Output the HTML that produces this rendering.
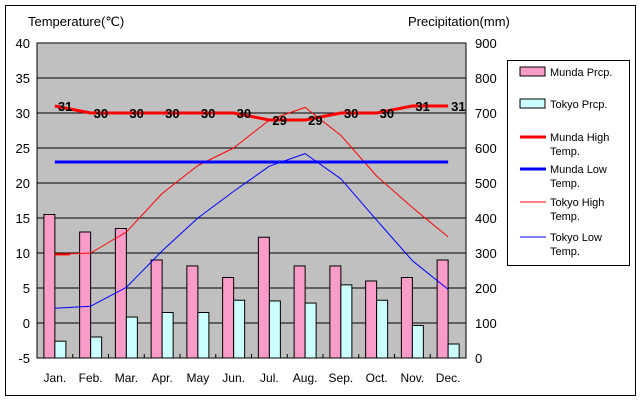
<!DOCTYPE html><html><head><meta charset="utf-8"><style>body{margin:0;background:#fff}svg{display:block;font-family:"Liberation Sans",sans-serif}</style></head><body>
<svg width="640" height="400" xmlns="http://www.w3.org/2000/svg">
<rect x="5.5" y="5.5" width="630" height="390" fill="#fff" stroke="#000"/>
<rect x="37" y="43" width="429" height="315" fill="#c0c0c0" stroke="#000"/>
<g stroke="#000" stroke-width="1">
<line x1="37" y1="78" x2="466" y2="78"/><line x1="37" y1="113" x2="466" y2="113"/><line x1="37" y1="148" x2="466" y2="148"/><line x1="37" y1="183" x2="466" y2="183"/><line x1="37" y1="218" x2="466" y2="218"/><line x1="37" y1="253" x2="466" y2="253"/><line x1="37" y1="288" x2="466" y2="288"/><line x1="37" y1="323" x2="466" y2="323"/>
</g>
<g id="bars" stroke="#000" stroke-width="1"></g>
<g font-size="13" text-anchor="end"><text x="30" y="48">40</text><text x="30" y="83">35</text><text x="30" y="118">30</text><text x="30" y="153">25</text><text x="30" y="188">20</text><text x="30" y="223">15</text><text x="30" y="258">10</text><text x="30" y="293">5</text><text x="30" y="328">0</text><text x="30" y="363">-5</text></g>
<g font-size="13"><text x="475" y="48">900</text><text x="475" y="83">800</text><text x="475" y="118">700</text><text x="475" y="153">600</text><text x="475" y="188">500</text><text x="475" y="223">400</text><text x="475" y="258">300</text><text x="475" y="293">200</text><text x="475" y="328">100</text><text x="475" y="363">0</text></g>
<text x="28" y="26" font-size="13">Temperature(℃)</text>
<text x="408" y="26" font-size="13">Precipitation(mm)</text>
<g font-size="12" text-anchor="middle" id="months"></g>
<g id="lines" fill="none"></g>
<g font-size="13" font-weight="bold" id="labels"></g>
<rect x="507.5" y="60.5" width="122" height="205" fill="#fff" stroke="#000"/>
<rect x="520" y="67" width="25" height="9" fill="#f99cc8" stroke="#000"/>
<rect x="520" y="99" width="25" height="9" fill="#ccffff" stroke="#000"/>
<line x1="520" y1="137" x2="546" y2="137" stroke="#f00" stroke-width="3"/>
<line x1="520" y1="169" x2="546" y2="169" stroke="#00f" stroke-width="3"/>
<line x1="520" y1="202" x2="546" y2="202" stroke="#f00"/>
<line x1="520" y1="237" x2="546" y2="237" stroke="#00f"/>
<g font-size="11"><text x="550" y="76">Munda Prcp.</text><text x="550" y="108">Tokyo Prcp.</text><text x="550" y="141">Munda High</text><text x="550" y="155">Temp.</text><text x="550" y="173">Munda Low</text><text x="550" y="187">Temp.</text><text x="550" y="206">Tokyo High</text><text x="550" y="220">Temp.</text><text x="550" y="241">Tokyo Low</text><text x="550" y="255">Temp.</text></g>
<script>
var ns="http://www.w3.org/2000/svg";
function el(p,t,a,tx){var e=document.createElementNS(ns,t);for(var k in a)e.setAttribute(k,a[k]);if(tx)e.textContent=tx;document.getElementById(p).appendChild(e);}
var m=["Jan.","Feb.","Mar.","Apr.","May","Jun.","Jul.","Aug.","Sep.","Oct.","Nov.","Dec."];
var mp=[410,360,370,280,263,230,345,263,263,220,230,280],tp=[48,60,117,130,130,165,163,157,209,165,93,40];
var mh=[31,30,30,30,30,30,29,29,30,30,31,31],ml=[23,23,23,23,23,23,23,23,23,23,23,23];
var th=[9.8,10,13,18.5,22.5,25,29,30.8,26.8,21,16.5,12.3],tl=[2.1,2.4,5.1,10.3,15,18.8,22.4,24.2,20.6,14.7,8.9,4.8];
function cx(i){return 37+35.75*(i+0.5);}function ty(t){return 323-t*7;}function py(p){return 358-p*0.35;}
for(var i=0;i<12;i++){var c=cx(i);
el("bars","rect",{x:c-11,y:py(mp[i]),width:11,height:358-py(mp[i]),fill:"#f99cc8"});
el("bars","rect",{x:c,y:py(tp[i]),width:11,height:358-py(tp[i]),fill:"#ccffff"});
el("bars","line",{x1:37+35.75*(i+1),y1:358,x2:37+35.75*(i+1),y2:354});
el("months","text",{x:c,y:382},m[i]);
el("labels","text",{x:c+3,y:ty(mh[i])+5},mh[i]);}
function pl(a,col,w){var s="";for(var i=0;i<12;i++)s+=cx(i)+","+ty(a[i])+" ";el("lines","polyline",{points:s,stroke:col,"stroke-width":w,"stroke-linejoin":"round"});}
pl(th,"#f00",1);pl(tl,"#00f",1);pl(ml,"#00f",3);pl(mh,"#f00",3);
el("lines","line",{x1:cx(0),y1:ty(9.8),x2:cx(0)+15,y2:ty(9.8),stroke:"#f00","stroke-width":2});
</script>
</svg></body></html>
